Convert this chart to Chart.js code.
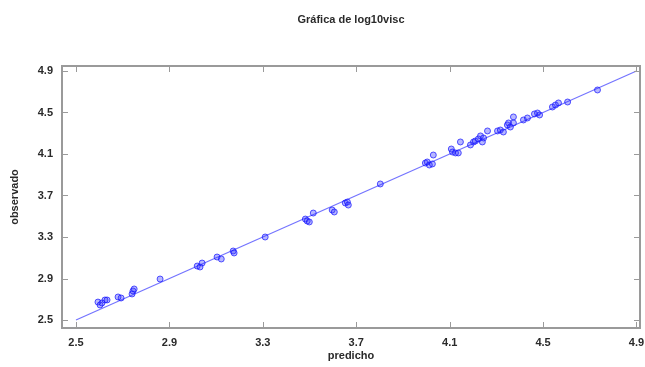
<!DOCTYPE html>
<html>
<head>
<meta charset="utf-8">
<script src="https://cdn.jsdelivr.net/npm/chart.js@4/dist/chart.umd.min.js"></script>
<style>
  html, body { margin: 0; padding: 0; background: #fff; }
  #wrap { width: 645px; height: 367px; position: relative; }
</style>
</head>
<body>
<div id="wrap"><canvas id="c" width="645" height="367"></canvas></div>
<script>
const chartTitle = "Gráfica de log10visc";
const xTitle = "predicho";
const yTitle = "observado";
const tickValues = [2.5, 2.9, 3.3, 3.7, 4.1, 4.5, 4.9];

const predicho = [
  2.594, 2.603, 2.611, 2.624, 2.633, 2.680, 2.693, 2.740, 2.744, 2.749,
  2.860, 3.019, 3.031, 3.040, 3.104, 3.122, 3.173, 3.177, 3.310, 3.482,
  3.490, 3.499, 3.516, 3.597, 3.606, 3.653, 3.662, 3.666, 3.803, 3.996,
  4.004, 4.013, 4.026, 4.030, 4.107, 4.112, 4.125, 4.137, 4.146, 4.189,
  4.202, 4.210, 4.223, 4.232, 4.240, 4.245, 4.262, 4.305, 4.317, 4.330,
  4.347, 4.352, 4.360, 4.373, 4.373, 4.416, 4.433, 4.463, 4.476, 4.485,
  4.540, 4.553, 4.566, 4.605, 4.733
];
const observado = [
  2.673, 2.645, 2.664, 2.693, 2.693, 2.722, 2.712, 2.751, 2.780, 2.799,
  2.895, 3.020, 3.011, 3.049, 3.107, 3.088, 3.165, 3.146, 3.300, 3.473,
  3.454, 3.445, 3.531, 3.560, 3.541, 3.628, 3.637, 3.608, 3.811, 4.013,
  4.023, 3.994, 4.004, 4.090, 4.148, 4.119, 4.110, 4.110, 4.216, 4.187,
  4.216, 4.225, 4.245, 4.274, 4.216, 4.254, 4.322, 4.322, 4.331, 4.312,
  4.380, 4.399, 4.360, 4.457, 4.399, 4.428, 4.447, 4.486, 4.495, 4.476,
  4.553, 4.572, 4.592, 4.601, 4.717
];
const lineX = [2.5, 4.9];
const lineY = [2.5, 4.9];

const points = predicho.map((x, i) => ({ x: x, y: observado[i] }));
const linePts = lineX.map((x, i) => ({ x: x, y: lineY[i] }));

const frameColor = '#9a9a9a';
const textColor = '#2a2a2a';
const FONT = 'Liberation Sans, Arial, sans-serif';

const framePlugin = {
  id: 'frame',
  afterDraw(chart) {
    const { ctx, chartArea: a, scales } = chart;
    ctx.save();
    ctx.strokeStyle = frameColor;
    ctx.lineWidth = 1;
    const L = 6;
    tickValues.forEach(v => {
      const px = Math.round(scales.x.getPixelForValue(v)) + 0.5;
      ctx.beginPath();
      ctx.moveTo(px, a.bottom); ctx.lineTo(px, a.bottom - L);
      ctx.moveTo(px, a.top); ctx.lineTo(px, a.top + L);
      ctx.stroke();
      const py = Math.round(scales.y.getPixelForValue(v)) + 0.5;
      ctx.beginPath();
      ctx.moveTo(a.left, py); ctx.lineTo(a.left + L, py);
      ctx.moveTo(a.right, py); ctx.lineTo(a.right - L, py);
      ctx.stroke();
    });
    ctx.lineWidth = 2;
    ctx.strokeRect(a.left, a.top, a.right - a.left, a.bottom - a.top);
    ctx.restore();
  }
};

new Chart(document.getElementById('c'), {
  type: 'scatter',
  data: {
    datasets: [
      {
        type: 'line',
        data: linePts,
        borderColor: 'rgba(80,80,255,0.8)',
        borderWidth: 1.2,
        pointRadius: 0,
        fill: false,
        order: 2
      },
      {
        data: points,
        pointRadius: 3,
        pointBackgroundColor: 'rgba(50,50,255,0.35)',
        pointBorderColor: 'rgba(20,20,255,0.7)',
        pointBorderWidth: 1,
        order: 1
      }
    ]
  },
  options: {
    responsive: false,
    animation: false,
    devicePixelRatio: 1,
    layout: { padding: { left: 0, right: 5, top: 0, bottom: 0 } },
    plugins: {
      legend: { display: false },
      tooltip: { enabled: false },
      title: {
        display: true,
        fullSize: false,
        text: chartTitle,
        color: textColor,
        font: { family: FONT, size: 11, weight: 'bold' },
        padding: { top: 13, bottom: 39.8 }
      }
    },
    scales: {
      x: {
        type: 'linear',
        min: 2.44,
        max: 4.915,
        afterBuildTicks: s => { s.ticks = tickValues.map(v => ({ value: v })); },
        afterFit: s => { s.height = 39; s.paddingLeft = 0; s.paddingRight = 0; },
        grid: { display: false, drawTicks: false },
        border: { display: false },
        ticks: {
          color: textColor,
          font: { family: FONT, size: 11, weight: 'bold' },
          padding: 8,
          maxRotation: 0,
          autoSkip: false,
          callback: v => Number(v).toFixed(1)
        },
        title: {
          display: true,
          text: xTitle,
          color: textColor,
          font: { family: FONT, size: 11, weight: 'bold' },
          padding: { top: 0, bottom: 4.5 }
        }
      },
      y: {
        type: 'linear',
        min: 2.423,
        max: 4.948,
        afterBuildTicks: s => { s.ticks = tickValues.map(v => ({ value: v })); },
        afterFit: s => { s.width = 62; s.paddingTop = 0; s.paddingBottom = 0; },
        grid: { display: false, drawTicks: false },
        border: { display: false },
        ticks: {
          color: textColor,
          font: { family: FONT, size: 11, weight: 'bold' },
          padding: 9,
          autoSkip: false,
          callback: v => Number(v).toFixed(1)
        },
        title: {
          display: true,
          text: yTitle,
          color: textColor,
          font: { family: FONT, size: 11, weight: 'bold' },
          padding: { top: 8, bottom: 0 }
        }
      }
    }
  },
  plugins: [framePlugin]
});
</script>
</body>
</html>
